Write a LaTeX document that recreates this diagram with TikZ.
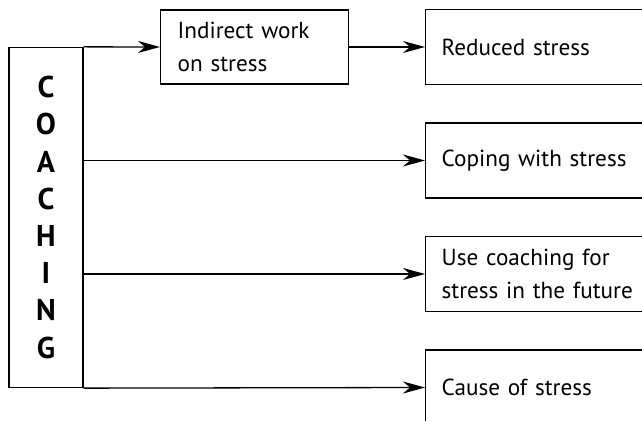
\documentclass[tikz,border=0pt]{standalone}
\usepackage{fontspec}
\setmainfont{PT Sans}
\usetikzlibrary{positioning,arrows.meta}

\begin{document}
\begin{tikzpicture}[x=0.5pt,y=-0.5pt,line width=0.65pt,
  outbox/.style={draw, rectangle, anchor=west, inner sep=0pt, minimum height=37.5pt,
    minimum width=120pt, text width=104pt, align=left, font=\fontsize{11.6}{16.5}\selectfont},
  arr/.style={-{Stealth[length=11pt,width=6pt,inset=3.5pt]}}]
			\useasboundingbox (0,0) rectangle (642,421);
			\clip (0,0) rectangle (642,421);
			% coaching
			\node (coach) at (46,217.5) [draw, rectangle, minimum width=37pt, minimum height=170pt,
			  align=center, font=\fontsize{15}{18.6}\selectfont\bfseries, inner sep=0pt]
			  {C\\O\\A\\C\\H\\I\\N\\G};
			
			% indirect work
			\node (ind) at (160,47) [draw, rectangle, anchor=west, minimum width=94pt, minimum height=37pt,
			  inner sep=0pt, text width=77pt, align=left, font=\fontsize{11.6}{16.5}\selectfont]
			  {Indirect work\\on stress};
			
			% outcomes
			\node (red) at (425,47) [outbox] {Reduced stress};
			\node (cope) at (425,160.5) [outbox] {Coping with stress};
			\node (fut) at (425,274) [outbox] {Use coaching for\\stress in the future};
			\node (cause) at (425,387.5) [outbox] {Cause of stress};
			
			\draw[arr] (coach.north east) -- (ind.west);
			\draw[arr] (ind.east) -- (red.west);
			\draw[arr] (coach.east |- cope.west) -- (cope.west);
			\draw[arr] (coach.east |- fut.west) -- (fut.west);
			\draw[arr] (coach.south east) -- (cause.west);
		\end{tikzpicture}
\end{document}
